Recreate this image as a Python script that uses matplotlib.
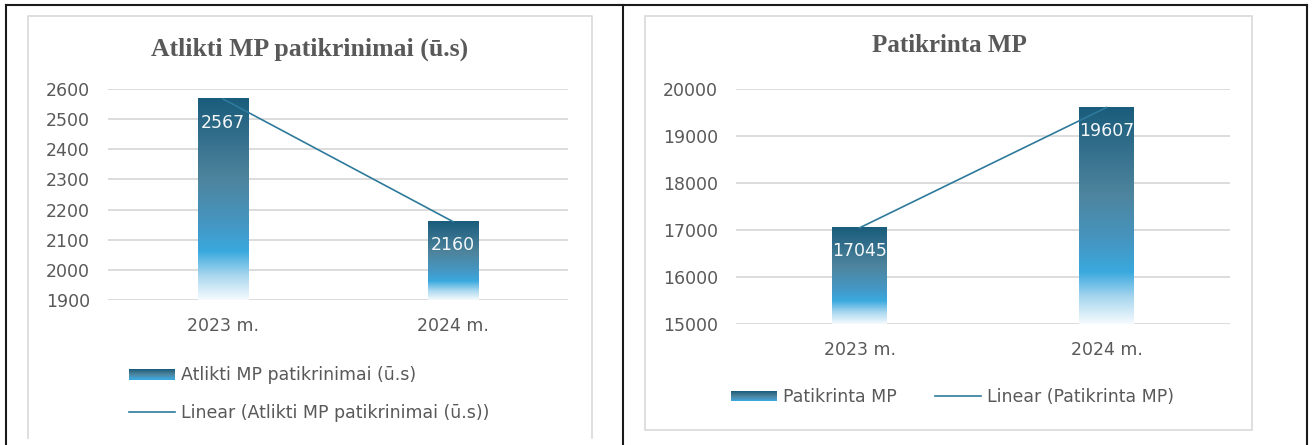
import numpy as np
import matplotlib
matplotlib.use("Agg")
import matplotlib.pyplot as plt
from matplotlib.colors import LinearSegmentedColormap
from matplotlib.patches import Rectangle, Patch
from matplotlib.lines import Line2D
from matplotlib.legend_handler import HandlerBase

# Data
years = ["2023 m.", "2024 m."]
atlikti = [2567, 2160]
patikrinta = [17045, 19607]

left_title = "Atlikti MP patikrinimai (ū.s)"
right_title = "Patikrinta MP"
left_ticks = [1900, 2000, 2100, 2200, 2300, 2400, 2500, 2600]
right_ticks = [15000, 16000, 17000, 18000, 19000, 20000]

W, H = 1313, 445
TXT = "#595959"
GRID = "#d9d9d9"
LINE = "#2e7a9c"

# Excel-like gradient, top -> bottom
bar_cmap = LinearSegmentedColormap.from_list("bar", [
    (0.0, "#1a5c7c"), (0.40, "#4e849d"), (0.62, "#4596c2"),
    (0.76, "#3aa9de"), (0.88, "#a9d7ef"), (1.0, "#f5fbfe")])

plt.rcParams["font.family"] = ["DejaVu Sans"]


def fx(x):
    return x / W


def fy(y):
    return 1 - y / H


class GradientHandler(HandlerBase):
    def create_artists(self, legend, orig_handle, xdescent, ydescent,
                       width, height, fontsize, trans):
        n = 10
        arts = []
        for i in range(n):
            c = bar_cmap(0.02 + 0.72 * i / (n - 1))
            r = Rectangle((-xdescent, -ydescent + height * (1 - (i + 1) / n)),
                          width, height / n, facecolor=c, edgecolor="none",
                          transform=trans)
            arts.append(r)
        return arts


def draw_chart(ax, values, ticks, fs=12.5):
    x = np.arange(len(values))
    ymin, ymax = ticks[0], ticks[-1]
    ax.set_xlim(-0.5, len(values) - 0.5)
    ax.set_ylim(ymin, ymax)
    bars = ax.bar(x, values, width=0.22, color="none", edgecolor="none")
    grad = np.linspace(0, 1, 256).reshape(-1, 1)
    for b in bars:
        x0 = b.get_x()
        x1 = x0 + b.get_width()
        top = b.get_height()
        ax.imshow(grad, cmap=bar_cmap, aspect="auto", origin="upper",
                  extent=(x0, x1, ymin, top), zorder=2, interpolation="bilinear")
    # linear trendline
    k, c = np.polyfit(x, values, 1)
    ax.plot(x, k * x + c, color=LINE, lw=1.2, zorder=3)
    for xi, v in zip(x, values):
        ax.annotate(str(v), (xi, v), xytext=(0, -17), textcoords="offset points",
                    ha="center", va="center", color="#f4f7f9", fontsize=fs, zorder=4)
    ax.set_xlim(-0.5, len(values) - 0.5)
    ax.set_ylim(ymin, ymax)
    ax.set_yticks(ticks)
    ax.set_xticks(x)
    ax.set_xticklabels(years)
    ax.yaxis.grid(True, color=GRID, lw=1.3)
    ax.set_axisbelow(True)
    for s in ax.spines.values():
        s.set_visible(False)
    ax.tick_params(axis="both", length=0, labelsize=fs, labelcolor=TXT)
    ax.tick_params(axis="y", pad=13)
    ax.tick_params(axis="x", pad=12)


fig = plt.figure(figsize=(W / 100, H / 100), dpi=100)

# table borders
for xs, ys in [((6, 1307), (5, 5)), ((6, 6), (5, 445)),
               ((623, 623), (5, 445)), ((1307, 1307), (5, 445))]:
    fig.add_artist(Line2D([fx(v) for v in xs], [fy(v) for v in ys],
                          color="#1a1a1a", lw=1.5))

# chart frames
fig.add_artist(Line2D([fx(28), fx(28), fx(592), fx(592)],
                      [fy(438), fy(16), fy(16), fy(438)], color=GRID, lw=1.2))
fig.add_artist(Rectangle((fx(645), fy(430)), fx(1252) - fx(645), fy(16) - fy(430),
                         transform=fig.transFigure, fill=False,
                         edgecolor=GRID, lw=1.2))

ax1 = fig.add_axes([fx(108), fy(300), fx(568) - fx(108), fy(89) - fy(300)])
draw_chart(ax1, atlikti, left_ticks)
ax2 = fig.add_axes([fx(736), fy(324), fx(1230) - fx(736), fy(89) - fy(324)])
draw_chart(ax2, patikrinta, right_ticks)

fig.text(fx(310), fy(49), left_title, ha="center", va="center",
         family="Liberation Serif", weight="bold", fontsize=18.5, color=TXT)
fig.text(fx(949), fy(46), right_title, ha="center", va="center",
         family="Liberation Serif", weight="bold", fontsize=18, color=TXT)

# legends
lh = Line2D([], [], color=LINE, lw=1.2)
leg1 = fig.legend([Patch(), lh],
                  [left_title, "Linear (" + left_title + ")"],
                  handler_map={Patch: GradientHandler()},
                  loc="center left", bbox_to_anchor=(fx(129), fy(394)),
                  frameon=False, fontsize=12.5, labelcolor=TXT,
                  borderpad=0, borderaxespad=0, handlelength=2.65,
                  handleheight=0.55, handletextpad=0.35, labelspacing=1.1)
leg2 = fig.legend([Patch(), Line2D([], [], color=LINE, lw=1.2)],
                  [right_title, "Linear (" + right_title + ")"],
                  handler_map={Patch: GradientHandler()}, ncol=2,
                  loc="center left", bbox_to_anchor=(fx(731), fy(397)),
                  frameon=False, fontsize=12.5, labelcolor=TXT,
                  borderpad=0, borderaxespad=0, handlelength=2.65,
                  handleheight=0.55, handletextpad=0.35, columnspacing=2.2)

fig.savefig("out.png", dpi=100)
